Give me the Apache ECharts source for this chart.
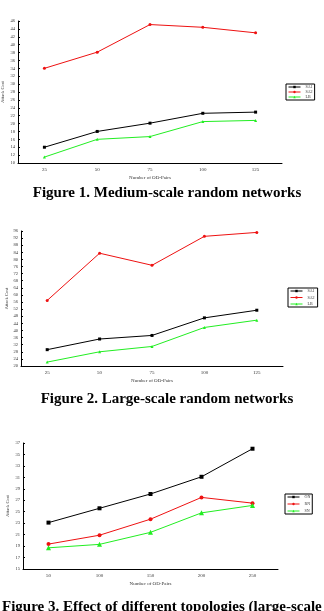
<!DOCTYPE html>
<html>
<head>
<meta charset="utf-8">
<script src="https://cdn.jsdelivr.net/npm/echarts@6/dist/echarts.min.js"></script>
<style>
  html, body { margin: 0; padding: 0; background: #fff; }
  #chart { width: 324px; height: 611px; }
</style>
</head>
<body>
<div id="chart"></div>
<script>
// figure 1 - medium-scale random networks
const pairs1 = ['25', '50', '75', '100', '125']
const sa1Medium = [14.0, 18.0, 20.1, 22.6, 22.9]
const sa2Medium = [34.0, 38.1, 45.1, 44.4, 43.0]
const lbMedium = [11.5, 16.0, 16.7, 20.5, 20.8]

// figure 2 - large-scale random networks
const pairs2 = ['25', '50', '75', '100', '125']
const sa1Large = [29.2, 35.2, 37.2, 47.1, 51.4]
const sa2Large = [56.9, 83.5, 76.7, 93.0, 95.2]
const lbLarge = [22.2, 28.0, 31.0, 41.7, 45.8]

// figure 3 - topologies
const pairs3 = ['50', '100', '150', '200', '250']
const onTopo = [23.1, 25.6, 28.1, 31.1, 36.0]
const rnTopo = [19.35, 20.9, 23.7, 27.5, 26.5]
const snTopo = [18.7, 19.3, 21.4, 24.8, 26.1]

const captions = [
  'Figure 1. Medium-scale random networks',
  'Figure 2. Large-scale random networks',
  'Figure 3. Effect of different topologies (large-scale networks)'
]

const BLACK = '#000000'
const RED = '#ee1111'
const GREEN = '#22ee22'
const CAPTION_FONT = 'bold 15px "Liberation Serif"'

const chart = echarts.init(document.getElementById('chart'))

function xAxisFor(gridIndex, data) {
  return {
    type: 'category',
    gridIndex: gridIndex,
    data: data,
    boundaryGap: true,
    name: 'Number of OD-Pairs',
    nameLocation: 'middle',
    nameGap: 12,
    nameTextStyle: { fontSize: 5, color: '#333', fontFamily: 'Liberation Serif' },
    axisLine: { lineStyle: { color: '#000', width: 1 } },
    axisTick: { inside: true, length: 3, lineStyle: { color: '#000' } },
    axisLabel: { fontSize: 5, color: '#333', margin: 4, fontFamily: 'Liberation Serif' }
  }
}

function yAxisFor(gridIndex, min, max, interval, gap) {
  return {
    type: 'value',
    gridIndex: gridIndex,
    min: min,
    max: max,
    interval: interval,
    name: 'Attack Cost',
    nameLocation: 'middle',
    nameGap: gap,
    nameMoveOverlap: false,
    nameTextStyle: { fontSize: 4.5, color: '#333', fontFamily: 'Liberation Serif' },
    axisLine: { show: true, lineStyle: { color: '#000', width: 1 } },
    axisTick: { show: true, inside: true, length: 2, lineStyle: { color: '#000' } },
    axisLabel: { fontSize: 4.5, color: '#333', margin: 3, fontFamily: 'Liberation Serif' },
    splitLine: { show: false }
  }
}

function lineSeries(name, idx, data, color, symbol, size) {
  return {
    name: name,
    type: 'line',
    xAxisIndex: idx,
    yAxisIndex: idx,
    data: data,
    symbol: symbol,
    symbolSize: size,
    lineStyle: { color: color, width: 1 },
    itemStyle: { color: color },
    animation: false
  }
}

function legendFor(names, left, top, gap) {
  return {
    data: names,
    orient: 'vertical',
    left: left,
    top: top,
    itemWidth: 12,
    itemHeight: 3,
    itemGap: gap,
    padding: [1, 2],
    borderColor: '#000',
    borderWidth: 1,
    backgroundColor: '#fff',
    lineStyle: { width: 1 },
    textStyle: { fontSize: 4, color: '#333', fontFamily: 'Liberation Serif' },
    selectedMode: false
  }
}

chart.setOption({
  backgroundColor: '#fff',
  grid: [
    { left: 18, top: 21, width: 264, height: 142, outerBoundsMode: 'none' },
    { left: 21, top: 231, width: 262, height: 135, outerBoundsMode: 'none' },
    { left: 23, top: 443, width: 255, height: 126, outerBoundsMode: 'none' }
  ],
  xAxis: [
    xAxisFor(0, pairs1),
    xAxisFor(1, pairs2),
    xAxisFor(2, pairs3)
  ],
  yAxis: [
    yAxisFor(0, 10, 46, 2, 13),
    yAxisFor(1, 20, 96, 4, 12),
    yAxisFor(2, 15, 37, 2, 13)
  ],
  legend: [
    legendFor(['SA1', 'SA2', 'LB'], 286, 84, 1),
    legendFor(['SA1 ', 'SA2 ', 'LB '], 288, 288, 2.5),
    legendFor(['ON', 'RN', 'SN'], 285, 494, 3)
  ],
  series: [
    lineSeries('SA1', 0, sa1Medium, BLACK, 'rect', 3),
    lineSeries('SA2', 0, sa2Medium, RED, 'circle', 3),
    lineSeries('LB', 0, lbMedium, GREEN, 'triangle', 3),
    lineSeries('SA1 ', 1, sa1Large, BLACK, 'rect', 3),
    lineSeries('SA2 ', 1, sa2Large, RED, 'circle', 3),
    lineSeries('LB ', 1, lbLarge, GREEN, 'triangle', 3),
    lineSeries('ON', 2, onTopo, BLACK, 'rect', 4),
    lineSeries('RN', 2, rnTopo, RED, 'circle', 4),
    lineSeries('SN', 2, snTopo, GREEN, 'triangle', 5)
  ],
  graphic: [
    { type: 'text', x: 167, y: 193, style: { text: captions[0], font: CAPTION_FONT, fill: '#000', align: 'center', verticalAlign: 'middle' } },
    { type: 'text', x: 167, y: 399, style: { text: captions[1], font: CAPTION_FONT, fill: '#000', align: 'center', verticalAlign: 'middle' } },
    { type: 'text', x: 2, y: 607, style: { text: captions[2], font: CAPTION_FONT, fill: '#000', align: 'left', verticalAlign: 'middle' } }
  ]
})
</script>
</body>
</html>
